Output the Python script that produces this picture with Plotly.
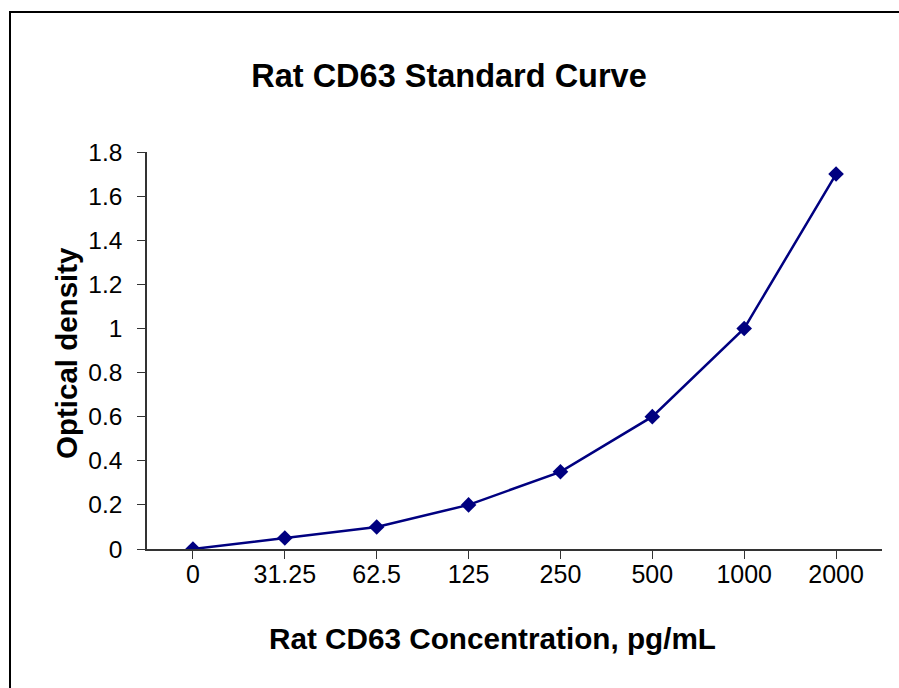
import plotly.graph_objects as go

categories = ["0", "31.25", "62.5", "125", "250", "500", "1000", "2000"]
od_values = [0, 0.05, 0.1, 0.2, 0.35, 0.6, 1.0, 1.7]
y_tick_vals = [0, 0.2, 0.4, 0.6, 0.8, 1.0, 1.2, 1.4, 1.6, 1.8]
y_tick_text = ["0", "0.2", "0.4", "0.6", "0.8", "1", "1.2", "1.4", "1.6", "1.8"]

title_text = "Rat CD63 Standard Curve"
x_title = "Rat CD63 Concentration, pg/mL"
y_title = "Optical density"

W, H = 899, 688
PL, PR, PT, PB = 147, 882, 152, 549  # plot area in screen pixels
L, T = PL, PT
R = W - PR
B = H - PB
pw, ph = PR - PL, PB - PT

FONT = "Liberation Sans, Arial, sans-serif"
NAVY = "#000080"

fig = go.Figure()
fig.add_trace(go.Scatter(
    x=list(range(len(categories))), y=od_values, mode="lines+markers",
    line=dict(color=NAVY, width=2.5),
    marker=dict(symbol="diamond", size=12, color=NAVY),
    showlegend=False, hoverinfo="skip",
))

def px_x(px):
    return (px - PL) / pw

def px_y(py):
    return (PB - py) / ph

frame = dict(color="black", width=2)

fig.update_layout(
    width=W, height=H,
    margin=dict(l=L, r=R, t=T, b=B),
    paper_bgcolor="white", plot_bgcolor="white",
    font=dict(family=FONT, color="black"),
    title=dict(text="<b>%s</b>" % title_text, x=449 / W, xref="container",
               y=1 - 76 / H, yref="container", xanchor="center", yanchor="middle",
               font=dict(size=32.5, family=FONT, color="black")),
    xaxis=dict(
        range=[-0.5, len(categories) - 0.5],
        tickmode="array", tickvals=list(range(len(categories))), ticktext=categories,
        tickson="boundaries", ticks="outside", ticklen=8, tickcolor="#333333",
        showline=True, linecolor="#333333", linewidth=1.5,
        showgrid=False, zeroline=False,
        tickfont=dict(size=25, family=FONT, color="black"),
        ticklabelstandoff=-6,
        fixedrange=True,
    ),
    yaxis=dict(
        range=[0, 1.8],
        tickmode="array", tickvals=y_tick_vals, ticktext=y_tick_text,
        ticks="outside", ticklen=8, tickcolor="#333333",
        showline=True, linecolor="#333333", linewidth=1.5,
        showgrid=False, zeroline=False,
        tickfont=dict(size=24.5, family=FONT, color="black"),
        ticklabelstandoff=10,
        fixedrange=True,
    ),
    annotations=[
        dict(text="<b>%s</b>" % x_title, xref="paper", yref="paper",
             x=px_x(492), y=px_y(638), xanchor="center", yanchor="middle",
             showarrow=False, font=dict(size=29.7, family=FONT, color="black")),
        dict(text="<b>%s</b>" % y_title, xref="paper", yref="paper",
             x=px_x(66), y=px_y(353), xanchor="center", yanchor="middle",
             textangle=-90, showarrow=False,
             font=dict(size=29.5, family=FONT, color="black")),
    ],
    shapes=[
        dict(type="line", xref="paper", yref="paper",
             x0=px_x(9), x1=px_x(920), y0=px_y(12), y1=px_y(12), line=frame, layer="below"),
        dict(type="line", xref="paper", yref="paper",
             x0=px_x(10), x1=px_x(10), y0=px_y(11), y1=px_y(720), line=frame, layer="below"),
    ],
)

fig.write_html(
    "out.html",
    config={"displayModeBar": False},
    post_script="document.body.style.margin='0';document.body.style.overflow='hidden';",
)
